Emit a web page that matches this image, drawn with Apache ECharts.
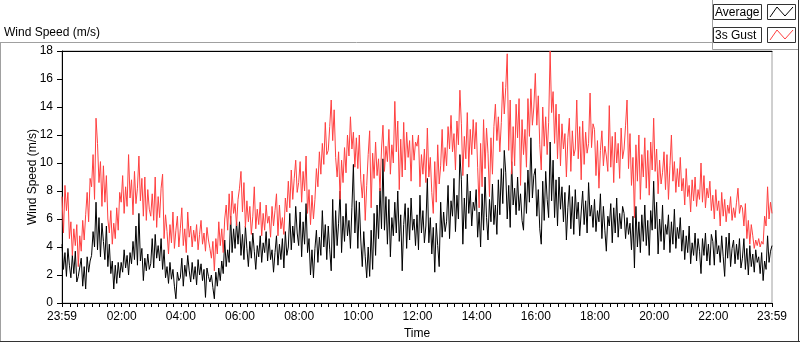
<!DOCTYPE html>
<html>
<head>
<meta charset="utf-8">
<script src="https://cdn.jsdelivr.net/npm/echarts@6/dist/echarts.min.js"></script>
<style>
  html, body { margin: 0; padding: 0; background: #fff; }
  #box { width: 800px; height: 342px; }
</style>
</head>
<body>
<div id="box"></div>
<script>
  // one sample every 3 minutes, starting at 23:59 (one row = one hour)
  const stepMinutes = 3;

  const avgSpeed = [
    4.2, 2.4, 3.6, 1.9, 3.9, 2.7, 1.8, 3.4, 2.1, 3.7, 1.5, 1.9, 2.0, 3.2, 1.2, 2.6, 1.0, 3.3, 2.2, 3.0,
    3.4, 5.1, 4.0, 7.2, 3.8, 6.1, 3.3, 5.7, 4.4, 3.1, 5.5, 2.6, 4.2, 2.1, 3.0, 1.0, 2.7, 1.4, 2.9, 1.8,
    2.9, 2.2, 3.8, 2.5, 3.4, 2.0, 3.6, 2.8, 4.4, 3.1, 5.5, 2.7, 6.4, 3.0, 3.9, 1.6, 3.2, 2.3, 3.5, 2.4,
    2.8, 4.6, 2.5, 4.9, 3.2, 4.1, 3.0, 4.6, 2.4, 3.8, 1.8, 2.6, 1.4, 2.9, 1.7, 2.4, 1.2, 0.3, 2.2, 1.6,
    1.8, 3.2, 1.2, 2.7, 1.9, 3.4, 2.3, 1.5, 2.9, 1.7, 2.6, 1.3, 3.1, 2.0, 2.8, 1.6, 2.4, 0.4, 2.5, 1.9,
    1.5, 2.0, 1.1, 0.3, 2.2, 1.2, 2.5, 1.6, 3.0, 2.1, 4.5, 2.6, 3.8, 2.9, 6.2, 3.6, 5.3, 3.9, 5.8, 4.2,
    5.8, 3.4, 4.9, 3.1, 5.5, 3.9, 2.6, 4.4, 3.2, 5.0, 3.7, 2.4, 4.1, 3.3, 4.8, 2.9, 4.3, 3.6, 5.1, 3.0,
    4.6, 3.1, 3.8, 2.2, 3.6, 4.8, 2.7, 4.2, 3.1, 4.6, 2.5, 5.1, 3.4, 4.0, 6.4, 3.8, 5.5, 4.3, 6.9, 5.0,
    4.1, 6.5, 3.3, 5.8, 4.2, 7.1, 3.6, 4.6, 2.0, 3.8, 1.8, 3.9, 5.2, 2.9, 4.7, 3.4, 6.6, 4.0, 5.6, 3.1,
    5.5, 3.8, 2.3, 7.4, 3.2, 6.6, 4.1, 5.7, 8.0, 3.6, 6.2, 4.4, 7.1, 4.8, 5.9, 3.9, 6.8, 9.9, 5.0, 7.3,
    3.9, 7.2, 4.5, 2.6, 5.1, 3.3, 1.8, 4.0, 1.9, 5.2, 2.4, 6.4, 3.4, 7.0, 4.6, 8.2, 5.3, 10.3, 5.2, 7.6,
    4.2, 7.4, 3.3, 6.1, 4.8, 7.2, 5.0, 8.0, 4.4, 6.3, 2.3, 5.6, 7.1, 3.9, 6.8, 4.5, 7.5, 5.2, 6.0, 4.1,
    6.3, 3.8, 7.7, 5.0, 6.6, 4.3, 5.5, 8.9, 4.3, 6.1, 3.5, 5.4, 2.2, 5.7, 4.1, 2.6, 7.2, 4.7, 6.5, 5.1,
    5.8, 8.4, 4.6, 7.3, 6.2, 8.9, 5.1, 7.7, 6.0, 10.6, 8.8, 4.2, 7.5, 5.3, 9.2, 6.4, 8.0, 5.5, 7.2, 6.6,
    8.1, 4.7, 6.5, 4.0, 7.8, 5.2, 9.0, 6.1, 4.5, 7.4, 5.8, 8.5, 5.6, 7.0, 4.9, 8.8, 6.3, 9.6, 7.1, 10.9,
    9.3, 6.0, 8.4, 5.4, 10.1, 7.0, 8.2, 6.3, 9.0, 6.6, 7.8, 5.9, 5.2, 8.6, 6.4, 9.5, 7.2, 11.8, 7.5, 9.1,
    9.6, 6.2, 8.1, 5.3, 4.2, 8.7, 5.9, 9.4, 7.4, 6.1, 11.5, 7.3, 10.2, 6.1, 8.8, 5.5, 9.0, 6.7, 8.3, 5.8,
    7.9, 4.5, 6.8, 8.4, 5.3, 7.6, 4.9, 8.1, 6.0, 7.2, 4.8, 6.5, 8.0, 5.6, 7.3, 5.0, 8.6, 6.2, 7.0, 5.4,
    7.4, 5.1, 6.6, 5.8, 7.8, 4.6, 6.9, 5.2, 3.7, 6.2, 5.5, 7.1, 4.3, 6.8, 5.0, 7.5, 4.7, 6.4, 5.3, 6.9,
    6.4, 4.6, 6.1, 4.9, 5.7, 3.8, 6.2, 2.5, 6.9, 4.0, 5.8, 3.6, 6.3, 4.4, 7.0, 4.1, 5.9, 3.4, 6.6, 5.2,
    8.7, 5.3, 7.2, 3.5, 6.0, 4.4, 7.0, 3.8, 5.6, 4.9, 6.3, 3.6, 5.8, 4.2, 6.7, 3.9, 5.4, 4.6, 6.1, 3.7,
    5.2, 3.1, 4.8, 3.6, 5.5, 2.8, 4.3, 3.4, 5.0, 3.0, 4.6, 3.7, 2.1, 4.6, 3.4, 5.0, 3.0, 4.2, 2.7, 4.9,
    4.4, 2.7, 5.2, 3.5, 4.1, 2.9, 4.8, 3.3, 1.9, 4.7, 3.2, 5.0, 2.6, 3.9, 4.5, 2.8, 4.2, 3.1, 4.6, 2.5,
    3.2, 4.6, 2.4, 3.9, 2.0, 4.1, 2.6, 3.5, 2.2, 3.8, 2.9, 3.3, 2.1, 3.6, 1.6, 3.0, 2.4, 4.8, 2.9, 3.7, 4.1,
  ];

  const gustSpeed = [
    7.6, 5.0, 8.4, 6.6, 7.9, 4.6, 5.8, 3.4, 5.3, 4.1, 5.6, 2.6, 4.8, 3.7, 5.9, 4.5, 6.3, 7.9, 5.8, 8.9,
    8.3, 10.6, 7.4, 13.2, 11.4, 8.6, 10.1, 6.9, 9.8, 7.2, 9.1, 6.0, 5.0, 6.6, 4.2, 5.7, 4.6, 6.8, 5.2, 7.9,
    7.2, 9.1, 6.4, 8.3, 6.9, 10.6, 7.5, 8.8, 6.3, 9.4, 7.1, 8.2, 10.5, 7.3, 8.9, 6.2, 9.0, 5.9, 8.1, 6.7,
    6.2, 7.8, 5.9, 9.0, 5.4, 7.6, 6.1, 8.2, 9.2, 4.6, 6.3, 5.1, 3.5, 5.6, 4.3, 6.5, 3.9, 5.2, 6.2, 4.0,
    5.3, 6.8, 4.1, 5.3, 3.6, 6.5, 4.7, 5.5, 4.0, 5.2, 4.4, 5.6, 3.8, 4.9, 5.9, 4.2, 5.0, 3.7, 5.4, 4.5,
    3.9, 3.2, 4.4, 2.3, 4.6, 3.5, 5.8, 4.1, 5.3, 3.6, 6.0, 7.0, 5.2, 7.8, 5.6, 8.0, 6.4, 7.1, 5.5, 7.4,
    8.2, 9.4, 6.5, 8.6, 5.4, 7.3, 5.8, 6.9, 4.9, 6.2, 8.3, 5.3, 6.7, 5.6, 7.2, 4.8, 6.4, 5.2, 7.0, 5.7,
    6.2, 4.7, 6.9, 5.5, 6.6, 7.8, 4.8, 7.0, 5.3, 6.1, 4.9, 7.5, 6.5, 8.7, 6.8, 9.5, 7.4, 8.9, 10.2, 7.9,
    8.6, 10.1, 7.2, 9.4, 8.0, 10.5, 6.4, 8.1, 5.6, 7.7, 6.0, 7.4, 9.6, 8.3, 10.8, 9.2, 11.4, 9.9, 12.9, 10.6,
    10.9, 12.6, 14.5, 11.6, 13.8, 10.4, 9.0, 10.8, 7.4, 10.2, 8.6, 11.1, 9.3, 12.0, 10.5, 13.3, 11.0, 12.2, 9.7, 11.8,
    9.6, 12.0, 8.8, 7.5, 9.2, 5.9, 8.4, 10.6, 12.3, 6.8, 10.7, 8.9, 11.5, 9.1, 10.3, 8.0, 11.0, 12.7, 9.4, 11.2,
    10.1, 12.4, 9.2, 11.3, 10.0, 14.4, 10.8, 13.0, 8.1, 11.7, 9.0, 12.9, 9.5, 12.2, 10.4, 11.6, 8.7, 12.0, 10.2, 11.5,
    11.2, 12.0, 8.3, 10.6, 9.2, 11.0, 8.6, 12.5, 9.0, 10.4, 7.9, 6.4, 10.1, 7.2, 11.3, 8.5, 9.8, 12.4, 9.4, 11.1,
    9.8, 12.6, 11.0, 13.4, 10.8, 12.1, 9.5, 13.0, 11.3, 15.2, 12.8, 9.1, 11.9, 10.3, 13.6, 9.7, 12.4, 10.6, 13.1, 11.0,
    12.9, 9.7, 6.8, 11.4, 8.3, 13.1, 9.6, 12.5, 10.7, 7.6, 11.8, 9.2, 12.6, 14.2, 11.6, 13.3, 10.8, 12.9, 15.8, 13.5,
    15.4, 17.8, 10.9, 14.5, 9.2, 12.6, 9.8, 14.2, 11.8, 14.6, 8.4, 13.1, 10.6, 12.4, 9.7, 14.6, 11.9, 15.3, 12.7, 14.0,
    16.4, 12.7, 14.8, 11.3, 9.5, 14.0, 11.2, 13.3, 10.6, 12.9, 18.0, 13.6, 15.1, 11.4, 14.2, 10.3, 13.5, 9.8, 12.8, 11.0,
    12.1, 9.0, 11.8, 13.2, 9.4, 12.3, 10.5, 11.0, 14.5, 10.3, 12.6, 8.8, 13.0, 9.9, 12.2, 10.7, 11.4, 15.0, 11.1, 12.8,
    12.4, 9.1, 11.6, 8.2, 10.9, 12.3, 9.8, 11.2, 10.5, 9.4, 14.1, 9.7, 11.9, 8.6, 12.2, 10.0, 11.4, 8.9, 12.5, 10.3,
    11.0, 12.7, 14.5, 9.6, 12.1, 8.4, 10.4, 6.1, 11.3, 8.7, 12.0, 7.4, 10.6, 9.0, 11.8, 8.2, 10.9, 7.7, 11.5, 9.5,
    13.2, 9.4, 11.0, 7.8, 10.2, 8.5, 9.3, 10.8, 8.1, 10.6, 7.4, 9.8, 12.0, 8.7, 10.1, 7.9, 9.6, 8.3, 10.4, 8.0,
    8.9, 7.0, 9.6, 7.6, 8.4, 6.5, 8.8, 7.3, 9.0, 6.9, 8.1, 7.4, 10.0, 7.2, 9.1, 6.8, 8.2, 7.5, 8.7, 6.6,
    7.7, 6.0, 8.1, 6.6, 7.3, 5.5, 7.9, 6.2, 7.4, 5.8, 7.0, 6.4, 7.6, 5.9, 6.8, 6.1, 7.2, 8.2, 6.4, 7.0,
    6.8, 5.5, 7.1, 4.6, 5.9, 4.2, 5.6, 4.8, 3.9, 4.5, 4.1, 4.6, 4.0, 4.4, 4.2, 6.2, 5.5, 8.3, 6.0, 7.2, 6.4,
  ];

  // x tick labels (minutes after the 23:59 start)
  const labelMinutes = [0, 121, 241, 361, 481, 601, 721, 841, 961, 1081, 1201, 1321, 1440];
  const timeLabels = ['23:59', '02:00', '04:00', '06:00', '08:00', '10:00', '12:00',
    '14:00', '16:00', '18:00', '20:00', '22:00', '23:59'];

  const tickMinutes = [0];
  for (let m = 16; m < 1440; m += 15) tickMinutes.push(m);
  tickMinutes.push(1440);

  const font = 'Liberation Sans, Arial, sans-serif';
  const toPairs = (arr) => arr.map((v, i) => [i * stepMinutes, v]);

  const chart = echarts.init(document.getElementById('box'), null, { renderer: 'canvas' });

  const legendItem = (y, name, color) => ({
    type: 'group',
    children: [
      { type: 'rect', shape: { x: 713.5, y: y + 0.5, width: 48, height: 15 },
        style: { fill: '#fff', stroke: '#333', lineWidth: 1 } },
      { type: 'text', x: 715, y: y + 8.5,
        style: { text: name, font: '12px ' + font, fill: '#000', textVerticalAlign: 'middle' } },
      { type: 'rect', shape: { x: 767.5, y: y + 0.5, width: 28, height: 15 },
        style: { fill: '#fff', stroke: '#333', lineWidth: 1 } },
      { type: 'polyline', shape: { points: [[770, y + 13], [777, y + 3], [785, y + 12], [793, y + 3]] },
        style: { stroke: color, lineWidth: 1, fill: null } },
    ],
  });

  chart.setOption({
    animation: false,
    backgroundColor: '#fff',
    textStyle: { fontFamily: font },
    title: {
      text: 'Wind Speed (m/s)',
      left: 4,
      top: 27,
      padding: 0,
      textStyle: { fontSize: 12, fontWeight: 'normal', color: '#000', fontFamily: font },
    },
    grid: {
      left: 62, right: 28, top: 51, bottom: 39,
      outerBoundsMode: 'none',
      show: true, borderColor: '#a0a0a0', borderWidth: 1, backgroundColor: '#fff',
    },
    xAxis: [
      {
        type: 'value', min: 0, max: 1440,
        name: 'Time', nameLocation: 'middle', nameGap: 25, nameMoveOverlap: false,
        nameTextStyle: { fontSize: 12, color: '#000', fontFamily: font },
        axisLine: { lineStyle: { color: '#000', width: 1 } },
        axisTick: { length: 4, lineStyle: { color: '#000' }, customValues: tickMinutes },
        axisLabel: {
          customValues: labelMinutes, margin: 8, fontSize: 12, color: '#000', fontFamily: font,
          formatter: (v) => timeLabels[labelMinutes.indexOf(v)],
        },
        splitLine: { show: false },
      },
      {
        type: 'value', min: 0, max: 1440, position: 'top',
        axisLine: { show: true, lineStyle: { color: '#000', width: 1 } },
        axisTick: { show: false }, axisLabel: { show: false }, splitLine: { show: false },
      },
    ],
    yAxis: {
      type: 'value', min: 0, max: 18, interval: 2,
      name: 'Wind Speed (m/s)', nameLocation: 'middle', nameGap: 23, nameMoveOverlap: false,
      nameTextStyle: { fontSize: 12, color: '#000', fontFamily: font },
      axisLine: { show: true, lineStyle: { color: '#000', width: 1 } },
      axisTick: { show: true, length: 5, lineStyle: { color: '#000' } },
      axisLabel: { margin: 9, fontSize: 12, color: '#000', fontFamily: font },
      splitLine: { show: false },
    },
    series: [
      {
        name: 'Average', type: 'line', data: toPairs(avgSpeed),
        showSymbol: false, symbol: 'none',
        lineStyle: { color: '#000', width: 1 }, itemStyle: { color: '#000' },
      },
      {
        name: '3s Gust', type: 'line', data: toPairs(gustSpeed),
        showSymbol: false, symbol: 'none',
        lineStyle: { color: '#ff4040', width: 1 }, itemStyle: { color: '#ff4040' },
      },
    ],
    graphic: [
      // outer frame
      { type: 'line', shape: { x1: 0, y1: 42.5, x2: 713, y2: 42.5 }, style: { stroke: '#a0a0a0', lineWidth: 1 } },
      { type: 'line', shape: { x1: 0.5, y1: 42.5, x2: 0.5, y2: 341.5 }, style: { stroke: '#a0a0a0', lineWidth: 1 } },
      { type: 'line', shape: { x1: 0, y1: 341.5, x2: 800, y2: 341.5 }, style: { stroke: '#333', lineWidth: 1 } },
      { type: 'line', shape: { x1: 798.5, y1: 0, x2: 798.5, y2: 342 }, style: { stroke: '#333', lineWidth: 1 } },
      // legend panel
      { type: 'line', shape: { x1: 712.5, y1: 0, x2: 712.5, y2: 49.5 }, style: { stroke: '#a0a0a0', lineWidth: 1 } },
      { type: 'line', shape: { x1: 712.5, y1: 49.5, x2: 798, y2: 49.5 }, style: { stroke: '#a0a0a0', lineWidth: 1 } },
      legendItem(4, 'Average', '#000'),
      legendItem(27, '3s Gust', '#ff4040'),
    ],
  });
</script>
</body>
</html>
